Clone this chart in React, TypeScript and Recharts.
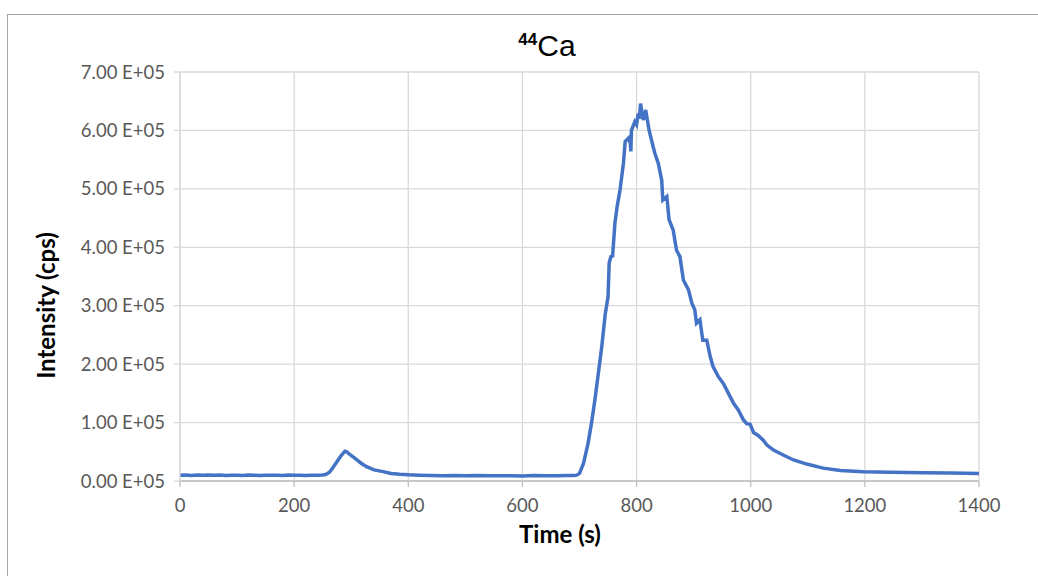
import { LineChart, Line, XAxis, YAxis, CartesianGrid } from 'recharts';

// time (s)
const times = [
  0, 10, 20, 30, 40, 50, 60, 70, 80, 90, 100, 110, 120, 130, 140, 150, 160, 170, 180, 190,
  200, 210, 220, 230, 240, 250, 255, 262, 268, 275, 282, 289, 292, 298, 305, 310, 318, 327,
  340, 356, 370, 385, 400, 420, 440, 460, 480, 500, 520, 540, 560, 580, 600, 620, 640, 660,
  680, 690, 695, 700, 707, 715, 721, 727, 733, 739, 745, 750, 752, 755, 758, 762, 766, 771,
  777, 780, 786, 789, 790, 791, 797, 800, 803, 805, 807, 810, 812, 816, 818, 822, 826, 832,
  838, 844, 846, 853, 857, 864, 870, 876, 882, 891, 897, 902, 905, 911, 916, 923, 929, 934,
  943, 952, 961, 970, 978, 987, 993, 999, 1005, 1013, 1022, 1028, 1040, 1057, 1075, 1098,
  1127, 1157, 1197, 1244, 1302, 1350, 1400
];

// intensity (cps)
const intensity = [
  10000, 10200, 9600, 10300, 9800, 10100, 9700, 10400, 9500, 9900, 10000, 9600, 10200, 9800,
  9500, 10000, 9700, 9900, 9600, 10100, 9700, 9900, 9600, 10000, 9800, 10200, 11000, 15000,
  23000, 33000, 43000, 51000, 50000, 45000, 40000, 36000, 30000, 24500, 19000, 16000, 13000,
  11500, 10500, 10000, 9300, 9000, 9400, 8900, 9200, 8800, 9100, 9000, 8700, 9200, 8900, 9100,
  9300, 9500, 10000, 13000, 30000, 64500, 99000, 139000, 184000, 230000, 285000, 315000,
  373000, 384000, 385000, 441000, 470000, 498000, 544000, 581000, 587000, 578000, 564000,
  600000, 615000, 610000, 629000, 620000, 646000, 625000, 618000, 635000, 623000, 600000,
  584000, 561000, 544000, 515000, 481000, 487000, 447000, 430000, 395000, 384000, 344000,
  327000, 304000, 293000, 270000, 276000, 241000, 241000, 213000, 196000, 179000, 167000,
  150000, 133000, 122000, 105000, 98000, 97000, 83000, 78000, 70000, 62000, 53000, 44500,
  36000, 29000, 22000, 18000, 16000, 15000, 14000, 13500, 13000
];

const xTicks = [0, 200, 400, 600, 800, 1000, 1200, 1400];
const yTicks = [0, 100000, 200000, 300000, 400000, 500000, 600000, 700000];

const data = times.map((t, i) => ({ t, v: intensity[i] }));

const fmtY = (v: number) => `${(v / 100000).toFixed(2)} E+05`;

const tickStyle = { fill: '#595959', fontSize: 18.5, fontFamily: 'Lato, "Open Sans", sans-serif' };

export default function App() {
  return (
    <div style={{ position: 'absolute', left: 0, top: 0, width: 1038, height: 576, overflow: 'hidden', background: '#fff' }}>
      <div
        style={{
          position: 'absolute',
          left: 7,
          top: 14,
          width: 1100,
          height: 700,
          border: '1px solid #a6a6a6',
          boxSizing: 'border-box'
        }}
      />
      <div
        style={{
          position: 'absolute',
          left: 0,
          width: 1094,
          top: 29,
          textAlign: 'center',
          fontFamily: '"Liberation Sans", Arial, sans-serif',
          fontSize: 30,
          color: '#000'
        }}
      >
        <sup style={{ fontSize: 17, fontWeight: 'bold', verticalAlign: 11 }}>44</sup>Ca
      </div>
      <div style={{ position: 'absolute', left: 0, top: 0 }}>
        <LineChart
          width={1038}
          height={576}
          data={data}
          margin={{ top: 72, right: 59, bottom: 55, left: 0 }}
        >
          <CartesianGrid stroke="#d9d9d9" strokeWidth={1.3} />
          <XAxis
            dataKey="t"
            type="number"
            domain={[0, 1400]}
            ticks={xTicks}
            height={40}
            stroke="#bfbfbf"
            strokeWidth={1.3}
            tickSize={6}
            tickMargin={12}
            tick={tickStyle}
            interval={0}
          />
          <YAxis
            type="number"
            domain={[0, 700000]}
            ticks={yTicks}
            width={180}
            tickFormatter={fmtY}
            stroke="#d9d9d9"
            strokeWidth={1.3}
            tickSize={6}
            tickMargin={9}
            tick={tickStyle}
            interval={0}
          />
          <Line
            type="linear"
            dataKey="v"
            stroke="#4472C4"
            strokeWidth={3.5}
            dot={false}
            isAnimationActive={false}
          />
        </LineChart>
      </div>
      <div
        style={{
          position: 'absolute',
          left: 460,
          width: 200,
          top: 519,
          textAlign: 'center',
          fontFamily: 'Lato, "Open Sans", sans-serif',
          fontWeight: 'bold',
          fontSize: 24,
          color: '#000'
        }}
      >
        Time (s)
      </div>
      <div
        style={{
          position: 'absolute',
          left: 45 - 100,
          top: 306 - 15,
          width: 200,
          textAlign: 'center',
          transform: 'rotate(-90deg)',
          fontFamily: 'Lato, "Open Sans", sans-serif',
          fontWeight: 'bold',
          fontSize: 24,
          color: '#000'
        }}
      >
        Intensity (cps)
      </div>
    </div>
  );
}
